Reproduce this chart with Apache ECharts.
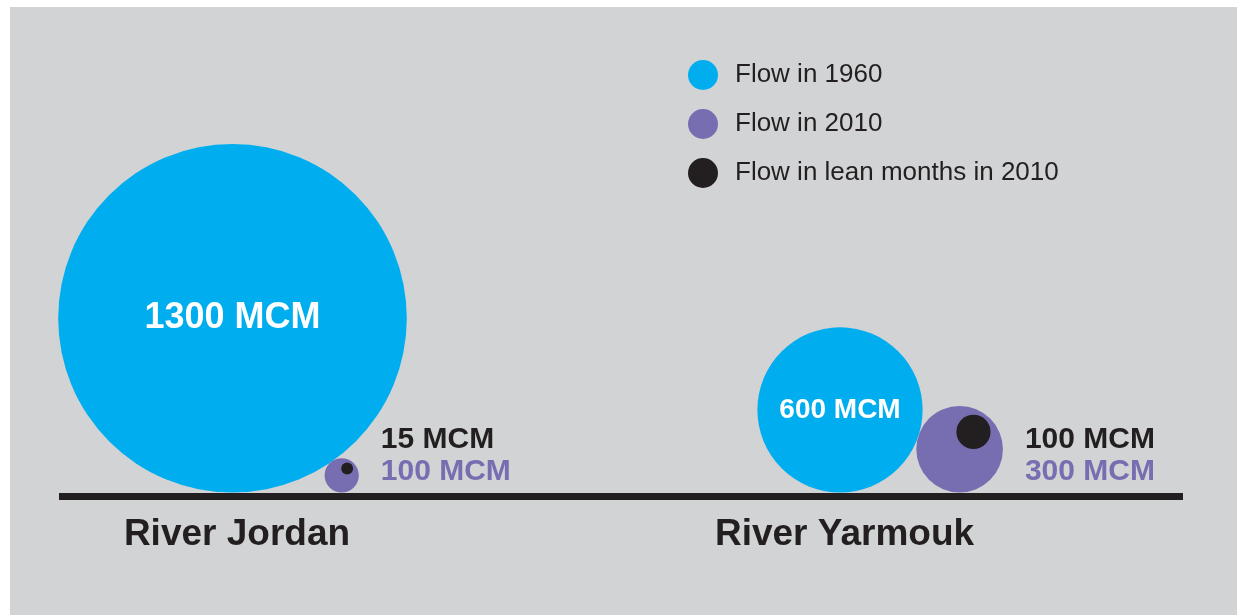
<!DOCTYPE html>
<html>
<head>
<meta charset="utf-8">
<title>River flow</title>
<script src="https://cdn.jsdelivr.net/npm/echarts@6/dist/echarts.min.js"></script>
<style>
  html, body { margin: 0; padding: 0; background: #fff; }
  .panel_bg {
    position: absolute; left: 10px; top: 7px; right: 0; bottom: 0;
    background: #d1d3d4;
  }
  #chart { position: absolute; left: 0; top: 0; width: 1237px; height: 615px; }
</style>
</head>
<body>
<div class="panel_bg"></div>
<div id="chart"></div>
<script>
// 数据
const rivers = ['River Jordan', 'River Yarmouk']
const flow1960 = [1300, 600]
const flow2010 = [100, 300]
const flowLean2010 = [15, 100]
const seriesNames = ['Flow in 1960', 'Flow in 2010', 'Flow in lean months in 2010']

const colors = ['#00aeef', '#776eb2', '#231f20']
const font = "'Liberation Sans', Arial, sans-serif"

// 气泡直径 (px) 按流量线性缩放
const sizeOf = v => 8 + 0.262 * v
const lift = 4 // 圆底落在粗基线上沿 (线宽的一半)

const blueData = rivers.map((r, i) => {
  const d = sizeOf(flow1960[i])
  return {
    value: [r, 0, flow1960[i]],
    symbolSize: d,
    symbolOffset: [0, -(d / 2 + lift)],
    label: { fontSize: d > 250 ? 36 : 28 }
  }
})

// 2010 的圆贴着 1960 的圆放在基线上
const purpleOffset = i => {
  const R = sizeOf(flow1960[i]) / 2
  const r = sizeOf(flow2010[i]) / 2
  return [2 * Math.sqrt(R * r), -(r + lift)]
}

const purpleData = rivers.map((r, i) => {
  const d = sizeOf(flow2010[i])
  return {
    value: [r, 0, flow2010[i]],
    symbolSize: d,
    symbolOffset: purpleOffset(i),
    label: { offset: [0, d / 2 - 37] }
  }
})

const blackData = rivers.map((r, i) => {
  const rp = sizeOf(flow2010[i]) / 2
  const off = purpleOffset(i)
  return {
    value: [r, 0, flowLean2010[i]],
    symbolSize: sizeOf(flowLean2010[i]),
    symbolOffset: [off[0] + 0.32 * rp, off[1] - 0.4 * rp]
  }
})

const chart = echarts.init(document.getElementById('chart'))
chart.setOption({
  animation: false,
  textStyle: { fontFamily: font },
  legend: {
    orient: 'vertical',
    left: 683,
    top: 55,
    icon: 'circle',
    itemWidth: 30,
    itemHeight: 30,
    itemGap: 19,
    selectedMode: false,
    data: seriesNames,
    textStyle: { fontSize: 26, color: '#231f20', fontFamily: font, padding: [0, 0, 0, 12] }
  },
  grid: [
    { left: 232.5, right: 397, top: 60, bottom: 118.5 }, // 数据
    { left: 59, right: 54, top: 60, bottom: 118.5 } // 基线
  ],
  xAxis: [
    {
      gridIndex: 0,
      type: 'category',
      boundaryGap: false,
      data: rivers,
      axisLine: { show: false },
      axisTick: { show: false },
      axisLabel: {
        margin: 20,
        fontSize: 37,
        fontWeight: 'bold',
        color: '#231f20',
        fontFamily: font,
        padding: [0, 0, 0, 9]
      }
    },
    {
      gridIndex: 1,
      type: 'value',
      min: 0,
      max: 1,
      axisLine: { show: true, lineStyle: { color: '#231f20', width: 7, cap: 'butt' } },
      axisTick: { show: false },
      axisLabel: { show: false },
      splitLine: { show: false }
    }
  ],
  yAxis: [
    { gridIndex: 0, type: 'value', min: 0, max: 1, show: false },
    { gridIndex: 1, type: 'value', min: 0, max: 1, show: false }
  ],
  series: [
    {
      name: seriesNames[0],
      type: 'scatter',
      clip: false,
      symbol: 'circle',
      itemStyle: { color: colors[0], opacity: 1 },
      label: {
        show: true,
        position: 'inside',
        color: '#fff',
        fontWeight: 'bold',
        fontFamily: font,
        formatter: p => p.value[2] + ' MCM'
      },
      emphasis: { disabled: true },
      data: blueData
    },
    {
      name: seriesNames[1],
      type: 'scatter',
      clip: false,
      symbol: 'circle',
      itemStyle: { color: colors[1], opacity: 1 },
      label: {
        show: true,
        position: 'right',
        distance: 22,
        align: 'left',
        formatter: p => '{lean|' + flowLean2010[p.dataIndex] + ' MCM}\n{now|' + p.value[2] + ' MCM}',
        rich: {
          lean: { fontSize: 30, fontWeight: 'bold', color: '#231f20', lineHeight: 32, fontFamily: font },
          now: { fontSize: 30, fontWeight: 'bold', color: colors[1], lineHeight: 32, fontFamily: font }
        }
      },
      emphasis: { disabled: true },
      data: purpleData
    },
    {
      name: seriesNames[2],
      type: 'scatter',
      clip: false,
      symbol: 'circle',
      itemStyle: { color: colors[2], opacity: 1 },
      emphasis: { disabled: true },
      data: blackData
    }
  ]
})
</script>
</body>
</html>
